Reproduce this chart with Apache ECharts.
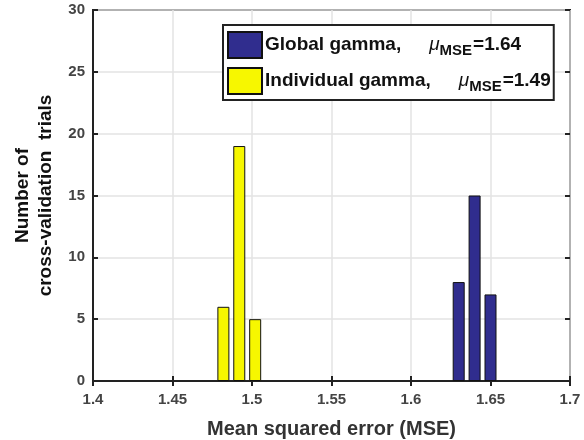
<!DOCTYPE html>
<html>
<head>
<meta charset="utf-8">
<script src="https://cdn.jsdelivr.net/npm/echarts@6/dist/echarts.min.js"></script>
<style>html,body{margin:0;padding:0;background:#fff}#container{width:584px;height:440px}</style>
</head>
<body>
<div id="container"></div>
<script>
// data
var globalX = [1.63, 1.64, 1.65];
var globalY = [8, 15, 7];
var indivX = [1.482, 1.492, 1.502];
var indivY = [6, 19, 5];
var seriesNames = ['Global gamma', 'Individual gamma'];
var muValues = ['1.64', '1.49'];

var myChart = echarts.init(document.getElementById("container"));

function pairs(xs, ys) {
    var out = [];
    for (var i = 0; i < xs.length; i++) out.push([xs[i], ys[i]]);
    return out;
}

var FONT = 'Liberation Sans, Arial';
var labelStyle = {color: '#444', fontWeight: 'bold', fontSize: 15, fontFamily: FONT};

option = {
    animation: false,
    grid: {left: 93, top: 10, right: 14, bottom: 59, show: true, borderColor: '#222', borderWidth: 2, outerBoundsMode: 'none'},
    legend: {
        orient: 'vertical',
        left: 223, top: 25,
        icon: 'rect',
        itemWidth: 34, itemHeight: 26, itemGap: 8,
        padding: [6, 3, 5, 4],
        backgroundColor: '#fff',
        borderColor: '#222', borderWidth: 2, borderRadius: 0,
        data: seriesNames,
        formatter: function (name) {
            var k = seriesNames.indexOf(name);
            return '{a|' + name + ',}{mu|μ}{sub|MSE}{a|=' + muValues[k] + '}';
        },
        textStyle: {
            padding: [0, 0, 0, -2],
            rich: {
                a: {fontSize: 19, fontWeight: 'bold', color: '#111', fontFamily: FONT},
                mu: {fontSize: 19, fontStyle: 'italic', color: '#111', fontFamily: FONT, padding: [0, 0, 0, 28]},
                sub: {fontSize: 15, fontWeight: 'bold', color: '#111', fontFamily: FONT, verticalAlign: 'bottom', padding: [12, 1, 0, 0]}
            }
        }
    },
    xAxis: [{
        type: 'value', min: 1.4, max: 1.7, interval: 0.05,
        name: 'Mean squared error (MSE)', nameLocation: 'middle', nameGap: 38,
        nameTextStyle: {fontSize: 20, fontWeight: 'bold', color: '#333', fontFamily: FONT},
        axisLine: {lineStyle: {color: '#222', width: 2}},
        axisTick: {inside: true, length: 5, lineStyle: {color: '#222', width: 2}},
        axisLabel: Object.assign({margin: 11}, labelStyle),
        splitLine: {lineStyle: {color: '#e3e3e3', width: 1.5}}
    }, {
        type: 'value', min: 1.4, max: 1.7, interval: 0.05, position: 'top',
        axisLine: {show: false},
        axisTick: {inside: true, length: 5, lineStyle: {color: '#222', width: 2}},
        axisLabel: {show: false}, splitLine: {show: false}
    }],
    yAxis: [{
        type: 'value', min: 0, max: 30, interval: 5,
        name: 'Number of\ncross-validation  trials', nameLocation: 'middle', nameGap: 36,
        nameTextStyle: {fontSize: 19, fontWeight: 'bold', color: '#111', lineHeight: 23, fontFamily: FONT},
        axisLine: {show: true, lineStyle: {color: '#222', width: 2}},
        axisTick: {show: true, inside: true, length: 5, lineStyle: {color: '#222', width: 2}},
        axisLabel: Object.assign({margin: 8}, labelStyle),
        splitLine: {lineStyle: {color: '#e3e3e3', width: 1.5}}
    }, {
        type: 'value', min: 0, max: 30, interval: 5, position: 'right',
        axisLine: {show: false},
        axisTick: {show: true, inside: true, length: 5, lineStyle: {color: '#222', width: 2}},
        axisLabel: {show: false}, splitLine: {show: false}
    }],
    series: [{
        name: seriesNames[0], type: 'bar', barWidth: 12, barGap: '-100%',
        itemStyle: {color: '#302d8e', borderColor: '#111', borderWidth: 1},
        data: pairs(globalX, globalY)
    }, {
        name: seriesNames[1], type: 'bar', barWidth: 12, barGap: '-100%',
        itemStyle: {color: '#f7f700', borderColor: '#111', borderWidth: 1},
        data: pairs(indivX, indivY)
    }]
};
myChart.setOption(option);
</script>
</body>
</html>
